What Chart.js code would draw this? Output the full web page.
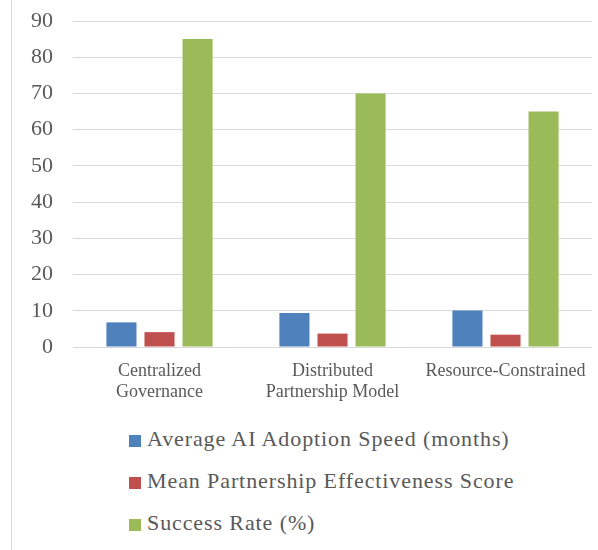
<!DOCTYPE html>
<html>
<head>
<meta charset="utf-8">
<script src="https://cdn.jsdelivr.net/npm/chart.js@4.4.0/dist/chart.umd.min.js"></script>
<style>
  html, body { margin: 0; padding: 0; background: #fff; }
  #wrap { position: relative; width: 598px; height: 550px; overflow: hidden; }
  #frame { position: absolute; left: 11px; top: 0; width: 1px; height: 550px; background: #d9d9d9; }
  #chart-box { position: absolute; left: 0; top: 0; width: 598px; height: 410px; }
  #legend { position: absolute; left: 129px; top: 418px; margin: 0; padding: 0; list-style: none;
    font-family: "Liberation Serif", "Times New Roman", serif; font-size: 22px; letter-spacing: 0.9px; color: #595959; }
  #legend li { height: 42px; line-height: 42px; white-space: nowrap; }
  #legend span.box { display: inline-block; width: 12px; height: 12px; margin-right: 6px; vertical-align: -1px; }
</style>
</head>
<body>
<div id="wrap">
  <div id="frame"></div>
  <div id="chart-box"><canvas id="barChart"></canvas></div>
  <ul id="legend"></ul>
</div>
<script>
// chart data
const categories = [["Centralized", "Governance"], ["Distributed", "Partnership Model"], "Resource-Constrained"];
const seriesNames = ["Average AI Adoption Speed (months)", "Mean Partnership Effectiveness Score", "Success Rate (%)"];
const adoptionSpeed = [6.8, 9.4, 10.1];
const partnershipScore = [4.1, 3.7, 3.4];
const successRate = [85, 70, 65];
const seriesColors = ["#4f81bd", "#c0504d", "#9bbb59"];
const yMin = 0;
const yMax = 90;
const yStep = 10;

const fontFamily = '"Liberation Serif", "Times New Roman", serif';
const textColor = "#595959";
const gridColor = "#d9d9d9";

const seriesValues = [adoptionSpeed, partnershipScore, successRate];

const datasets = seriesNames.map((name, i) => ({
  label: name,
  data: seriesValues[i],
  backgroundColor: seriesColors[i],
  borderWidth: 0,
  barPercentage: 0.79,
  categoryPercentage: 0.66
}));

const ctx = document.getElementById("barChart").getContext("2d");
const chart = new Chart(ctx, {
  type: "bar",
  data: { labels: categories, datasets: datasets },
  options: {
    responsive: true,
    maintainAspectRatio: false,
    animation: false,
    layout: { padding: { top: 0, right: 6, left: 0, bottom: 0 } },
    plugins: {
      legend: { display: false },
      tooltip: { enabled: false }
    },
    scales: {
      x: {
        grid: { display: false },
        border: { display: false },
        ticks: {
          color: textColor,
          font: { family: fontFamily, size: 18, lineHeight: 1.15 },
          padding: 6,
          maxRotation: 0,
          autoSkip: false
        },
        afterFit: (scale) => { scale.height = 63; scale.paddingTop = 0; }
      },
      y: {
        min: yMin,
        max: yMax,
        grid: { color: gridColor, lineWidth: 1, drawTicks: false },
        border: { display: false },
        ticks: {
          stepSize: yStep,
          color: textColor,
          font: { family: fontFamily, size: 22 },
          padding: 20
        },
        afterFit: (scale) => { scale.width = 73; scale.paddingTop = 21; scale.paddingBottom = 0; }
      }
    }
  }
});

// legend, one item per row
const legendEl = document.getElementById("legend");
datasets.forEach(ds => {
  const li = document.createElement("li");
  const box = document.createElement("span");
  box.className = "box";
  box.style.background = ds.backgroundColor;
  li.appendChild(box);
  li.appendChild(document.createTextNode(ds.label));
  legendEl.appendChild(li);
});
</script>
</body>
</html>
